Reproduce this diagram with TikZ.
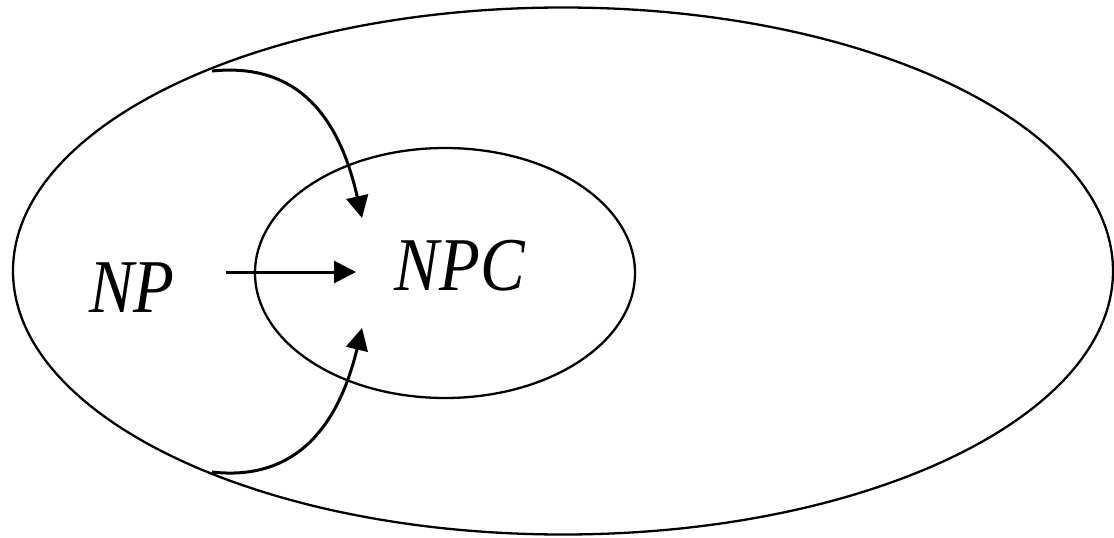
\documentclass[tikz,border=0pt]{standalone}
\usepackage{fontspec}
\setmainfont{Liberation Serif}
\usetikzlibrary{arrows.meta}
\begin{document}
\begin{tikzpicture}[x=1pt,y=-1pt,
  ring/.style={draw=black,line width=2.3pt},
  link/.style={draw=black,line width=3pt,-{Triangle[length=22pt,width=22pt]}},
  lbl/.style={font=\itshape\fontsize{76}{84}\selectfont,inner sep=0pt}]
\useasboundingbox (0,0) rectangle (1114,538);
\draw[ring] (563,271) ellipse [x radius=550,y radius=263.5];
\draw[ring] (445,273) ellipse [x radius=190,y radius=125];
\node[lbl] (np) at (132,288) {\scalebox{0.88}[1]{NP}};
\node[lbl] (npc) at (460,266) {\scalebox{0.88}[1]{NPC}};
\coordinate (s) at (226,272);
\coordinate (e) at (356,272);
\coordinate (t0) at (212,71);
\coordinate (t1) at (362,218);
\coordinate (b0) at (212,472);
\coordinate (b1) at (362,328);
\draw[link] (s) -- (e);
\draw[link] (t0) .. controls (300,62) and (340,120) .. (t1);
\draw[link] (b0) .. controls (300,482) and (340,420) .. (b1);
\end{tikzpicture}
\end{document}
